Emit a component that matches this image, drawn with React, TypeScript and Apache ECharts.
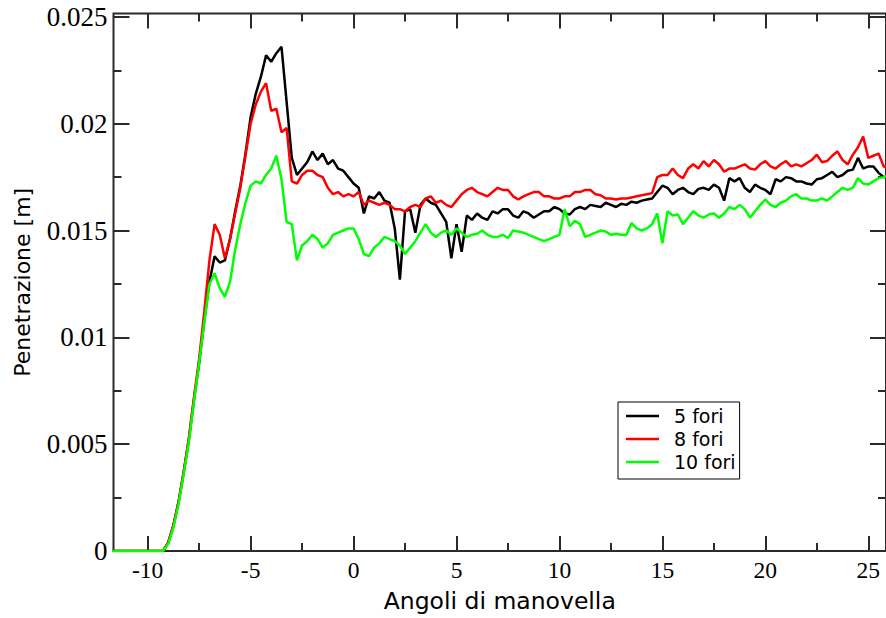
import React, { useEffect, useRef } from "react";
import * as echarts from "echarts";

// Sampling of the crank-angle axis (degrees)
const ANGLE_START = -11.75;
const ANGLE_STEP = 0.25;

// Penetration values in millimetres, one row per degree (4 samples / degree)
const fori5_mm = [
  0, 0, 0, // -11.75 .. -11.25
  0, 0, 0, 0, // -11
  0, 0, 0, 0, // -10
  0.4, 1.2, 2.3, 3.7, // -9
  5.2, 7.1, 8.8, 10.8, // -8
  12.6, 13.8, 13.5, 13.6, // -7
  14.6, 15.9, 17.1, 18.6, // -6
  20.3, 21.4, 22.2, 23.2, // -5
  22.9, 23.3, 23.6, 21.0, // -4
  18.4, 17.6, 17.9, 18.2, // -3
  18.7, 18.3, 18.6, 18.1, // -2
  18.3, 17.9, 17.8, 17.5, // -1
  17.2, 17.0, 15.8, 16.6, // 0
  16.5, 16.8, 16.4, 16.3, // 1
  15.1, 12.7, 15.9, 16.0, // 2
  14.9, 16.2, 16.5, 16.3, // 3
  16.2, 15.8, 15.4, 13.7, // 4
  15.3, 14.0, 15.7, 15.5, // 5
  15.8, 15.6, 15.5, 15.9, // 6
  15.8, 16.0, 16.0, 15.7, // 7
  15.6, 15.9, 15.8, 15.6, // 8
  15.75, 15.9, 15.9, 16.1, // 9
  16.0, 15.8, 15.75, 16.0, // 10
  16.1, 16.0, 16.2, 16.15, // 11
  16.1, 16.3, 16.2, 16.1, // 12
  16.25, 16.2, 16.35, 16.3, // 13
  16.4, 16.45, 16.5, 16.8, // 14
  17.1, 17.0, 16.7, 16.9, // 15
  17.0, 16.8, 16.7, 16.95, // 16
  17.0, 16.9, 17.15, 17.0, // 17
  16.4, 17.45, 17.3, 17.45, // 18
  17.0, 16.8, 17.15, 17.0, // 19
  16.9, 16.7, 17.4, 17.3, // 20
  17.5, 17.45, 17.3, 17.3, // 21
  17.2, 17.15, 17.4, 17.45, // 22
  17.6, 17.75, 17.5, 17.6, // 23
  17.8, 17.85, 18.4, 17.9, // 24
  18.0, 18.0, 17.7, 17.5, // 25
  17.5, // 26
];

const fori8_mm = [
  0, 0, 0,
  0, 0, 0, 0,
  0, 0, 0, 0,
  0.4, 1.2, 2.3, 3.7, // -9
  5.3, 7.2, 9.0, 11.2, // -8
  13.6, 15.3, 14.8, 13.7, // -7
  14.6, 15.8, 17.0, 18.5, // -6
  20.0, 20.9, 21.5, 21.9, // -5
  20.6, 20.7, 19.6, 19.8, // -4
  17.3, 17.2, 17.6, 17.8, // -3
  17.8, 17.6, 17.5, 17.0, // -2
  16.7, 16.8, 16.6, 16.7, // -1
  16.6, 16.8, 16.2, 16.4, // 0
  16.3, 16.2, 16.3, 16.2, // 1
  16.0, 16.0, 15.9, 16.1, // 2
  16.2, 16.1, 16.5, 16.6, // 3
  16.3, 16.4, 16.2, 16.1, // 4
  16.4, 16.7, 16.9, 17.0, // 5
  16.8, 16.7, 16.6, 16.8, // 6
  17.0, 16.9, 16.9, 16.6, // 7
  16.45, 16.6, 16.7, 16.8, // 8
  16.8, 16.6, 16.6, 16.5, // 9
  16.5, 16.6, 16.6, 16.8, // 10
  16.8, 16.9, 16.9, 16.7, // 11
  16.65, 16.5, 16.5, 16.45, // 12
  16.5, 16.5, 16.55, 16.6, // 13
  16.65, 16.7, 16.75, 17.5, // 14
  17.6, 17.6, 17.9, 17.6, // 15
  17.45, 17.9, 18.1, 17.9, // 16
  18.25, 18.0, 18.3, 18.1, // 17
  17.75, 17.9, 17.9, 18.0, // 18
  18.1, 17.9, 17.85, 18.1, // 19
  18.25, 18.0, 17.9, 18.1, // 20
  18.25, 18.0, 18.1, 18.0, // 21
  18.15, 18.3, 18.55, 18.2, // 22
  18.25, 18.5, 18.7, 18.3, // 23
  18.1, 18.55, 18.9, 19.4, // 24
  18.4, 18.5, 18.6, 18.0, // 25
  17.9, // 26
];

const fori10_mm = [
  0, 0, 0,
  0, 0, 0, 0,
  0, 0, 0, 0,
  0.35, 1.1, 2.2, 3.6, // -9
  5.1, 7.0, 8.8, 10.7, // -8
  12.5, 13.0, 12.3, 11.9, // -7
  12.6, 14.1, 15.3, 16.3, // -6
  17.1, 17.3, 17.2, 17.6, // -5
  17.9, 18.5, 17.4, 15.4, // -4
  15.3, 13.6, 14.3, 14.5, // -3
  14.8, 14.6, 14.2, 14.4, // -2
  14.8, 14.9, 15.0, 15.1, // -1
  15.1, 14.6, 13.9, 13.8, // 0
  14.2, 14.4, 14.7, 14.6, // 1
  14.5, 14.3, 13.9, 14.2, // 2
  14.5, 14.9, 15.3, 14.9, // 3
  14.7, 14.9, 15.0, 14.8, // 4
  15.1, 14.9, 14.7, 14.8, // 5
  14.85, 15.0, 14.8, 14.7, // 6
  14.7, 14.8, 14.65, 15.0, // 7
  14.95, 14.9, 14.8, 14.7, // 8
  14.6, 14.5, 14.6, 14.7, // 9
  14.8, 16.0, 15.2, 15.45, // 10
  15.3, 14.7, 14.8, 14.9, // 11
  15.0, 14.95, 14.8, 14.85, // 12
  14.8, 14.8, 15.35, 15.1, // 13
  15.0, 15.1, 15.3, 15.8, // 14
  14.4, 15.9, 15.7, 15.75, // 15
  15.3, 15.6, 15.9, 15.7, // 16
  15.6, 15.75, 15.8, 15.6, // 17
  15.8, 16.1, 16.0, 16.2, // 18
  16.0, 15.6, 15.9, 16.2, // 19
  16.45, 16.2, 16.1, 16.3, // 20
  16.4, 16.6, 16.7, 16.5, // 21
  16.5, 16.4, 16.4, 16.5, // 22
  16.4, 16.6, 16.8, 17.0, // 23
  16.9, 17.0, 17.45, 17.2, // 24
  17.15, 17.3, 17.45, 17.5, // 25
  17.6, // 26
];

const seriesNames = ["5 fori", "8 fori", "10 fori"];
const seriesColors = ["#000000", "#ff0000", "#00ff00"];

const xMajorTicks = [-10, -5, 0, 5, 10, 15, 20, 25];
const xMinorTicks = [-7.5, -2.5, 2.5, 7.5, 12.5, 17.5, 22.5];
const yMajorTicks = [0, 0.005, 0.01, 0.015, 0.02, 0.025];
const yMinorTicks = [0.0025, 0.0075, 0.0125, 0.0175, 0.0225];
const yTickLabels = ["0", "0.005", "0.01", "0.015", "0.02", "0.025"];

const X_MIN = -11.66;
const X_MAX = 25.86;
const Y_MIN = 0;
const Y_MAX = 0.025158;

const toPairs = (mm: number[]) =>
  mm.map((v, i) => [ANGLE_START + i * ANGLE_STEP, v / 1000]);

const AXIS_COLOR = "#2a2a2a";

function tickAxis(dim: "x" | "y", position: string, values: number[], length: number, extra: any = {}) {
  return {
    type: "value",
    position,
    min: dim === "x" ? X_MIN : Y_MIN,
    max: dim === "x" ? X_MAX : Y_MAX,
    splitLine: { show: false },
    axisLine: { show: false, onZero: false },
    axisLabel: { show: false },
    axisTick: {
      show: true,
      inside: true,
      length,
      customValues: values,
      lineStyle: { color: AXIS_COLOR, width: 2 },
    },
    ...extra,
  };
}

export default function App() {
  const ref = useRef<HTMLDivElement>(null);

  useEffect(() => {
    if (!ref.current) return;
    const chart = echarts.init(ref.current, null, { renderer: "svg" });
    const data = [fori5_mm, fori8_mm, fori10_mm];

    chart.setOption({
      animation: false,
      backgroundColor: "#ffffff",
      grid: {
        left: 113.5,
        top: 13.5,
        width: 775,
        height: 542.5,
        show: true,
        borderColor: AXIS_COLOR,
        borderWidth: 2,
        backgroundColor: "transparent",
      },
      legend: {
        data: seriesNames,
        orient: "vertical",
        left: 618,
        top: 402,
        icon: "rect",
        itemWidth: 33,
        itemHeight: 2.5,
        itemGap: 1,
        padding: [3, 4, 6, 8],
        borderColor: "#000",
        borderWidth: 1,
        backgroundColor: "#fff",
        textStyle: {
          fontFamily: "DejaVu Sans",
          fontSize: 19,
          color: "#000",
          lineHeight: 22,
          padding: [0, 0, 0, 10],
        },
      },
      xAxis: [
        tickAxis("x", "bottom", xMajorTicks, 15, {
          axisLabel: {
            show: true,
            customValues: xMajorTicks,
            fontFamily: "Liberation Serif",
            fontSize: 23.5,
            color: "#000",
            margin: 7,
            formatter: (v: number) => String(v),
          },
          name: "Angoli di manovella",
          nameLocation: "middle",
          nameGap: 38,
          nameTextStyle: { fontFamily: "DejaVu Sans", fontSize: 23.5, color: "#000" },
        }),
        tickAxis("x", "bottom", xMinorTicks, 8),
        tickAxis("x", "top", xMajorTicks, 15),
        tickAxis("x", "top", xMinorTicks, 8),
      ],
      yAxis: [
        tickAxis("y", "left", yMajorTicks, 16, {
          axisLabel: {
            show: true,
            customValues: yMajorTicks,
            fontFamily: "Liberation Serif",
            fontSize: 27,
            color: "#000",
            margin: 6,
            formatter: (v: number) => {
              const idx = yMajorTicks.findIndex((t) => Math.abs(t - v) < 1e-9);
              return idx >= 0 ? yTickLabels[idx] : "";
            },
          },
          name: "Penetrazione [m]",
          nameLocation: "middle",
          nameGap: 80,
          nameTextStyle: { fontFamily: "DejaVu Sans", fontSize: 22, color: "#000" },
        }),
        tickAxis("y", "left", yMinorTicks, 8),
        tickAxis("y", "right", yMajorTicks, 16),
        tickAxis("y", "right", yMinorTicks, 8),
      ],
      series: data.map((mm, k) => ({
        name: seriesNames[k],
        type: "line",
        xAxisIndex: 0,
        yAxisIndex: 0,
        data: toPairs(mm),
        showSymbol: false,
        symbol: "none",
        clip: true,
        color: seriesColors[k],
        lineStyle: { color: seriesColors[k], width: 2.5 },
      })),
    });

    return () => chart.dispose();
  }, []);

  return (
    <div
      ref={ref}
      style={{ position: "absolute", left: 0, top: 0, width: 886, height: 618, background: "#fff" }}
    />
  );
}
